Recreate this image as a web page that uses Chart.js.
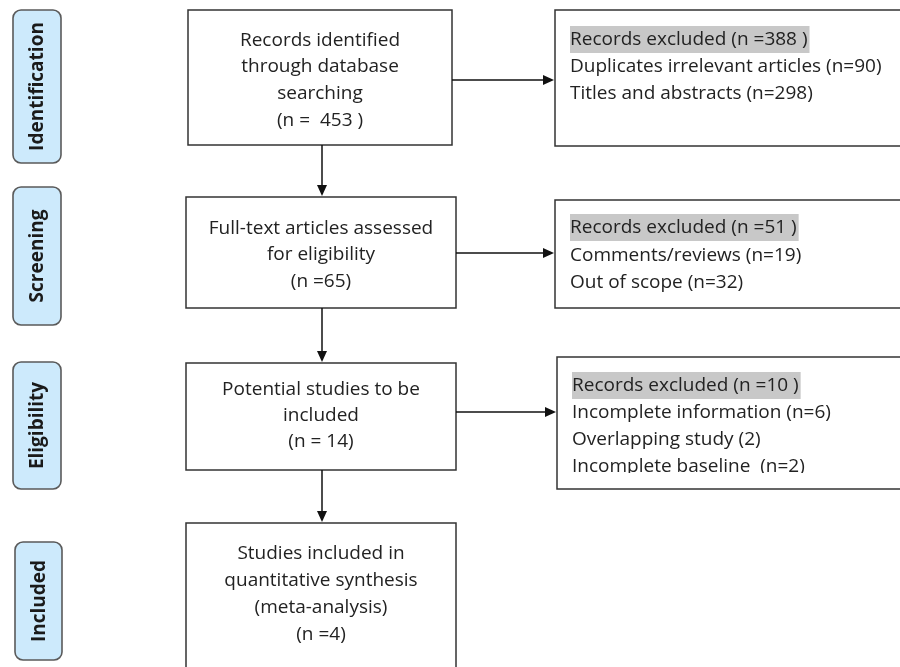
<!DOCTYPE html>
<html>
<head>
<meta charset="utf-8">
<script src="https://cdn.jsdelivr.net/npm/chart.js@4.4.1/dist/chart.umd.min.js"></script>
<style>
  html, body { margin: 0; padding: 0; background: #fff; }
  #flow { display: block; }
</style>
</head>
<body>
<canvas id="flow" width="900" height="667"></canvas>
<script>
// PRISMA flow data
const stages        = ["Identification", "Screening", "Eligibility", "Included"];
const mainCounts    = [453, 65, 14, 4];
const excludedTotal = [388, 51, 10];
const mainLines = [
  ["Records identified", "through database", "searching", `(n =  ${mainCounts[0]} )`],
  ["Full-text articles assessed", "for eligibility", `(n =${mainCounts[1]})`],
  ["Potential studies to be", "included", `(n = ${mainCounts[2]})`],
  ["Studies included in", "quantitative synthesis", "(meta-analysis)", `(n =${mainCounts[3]})`],
];
const reasonLabels = [
  ["Duplicates irrelevant articles", "Titles and abstracts"],
  ["Comments/reviews", "Out of scope"],
  ["Incomplete information", "Overlapping study", "Incomplete baseline "],
];
const reasonCounts = [[90, 298], [19, 32], [6, 2, 2]];
const reasonFormat = [["n=", "n=", "n="], ["n=", "n="], ["n=", "", "n="]];

// layout (in axis units, axis = 0..900 x 0..667)
const stageBox = [[13, 10, 61, 163], [13, 187, 61, 325], [13, 362, 61, 489], [15, 542, 62, 660]];
const mainBox  = [[188, 10, 452, 145], [186, 197, 456, 308], [186, 363, 456, 470], [186, 523, 456, 700]];
const mainTextY = [[41, 67, 94, 121], [229, 255, 282], [390, 416, 442], [554, 581, 608, 635]];
const exclBox  = [[555, 10, 905, 146], [555, 200, 905, 308], [557, 357, 905, 489]];
const exclTextY = [[40, 67, 94], [228, 256, 283], [386, 413, 440, 467]];
const exclClip = [146, 308, 473];
const arrowY   = [80, 253, 412];
const arrowX   = 322;
const BODY_FONT = "19px 'Open Sans'";

const flowPlugin = {
  id: "flow",
  afterDraw(chart) {
    const ctx = chart.ctx;
    const sx = chart.scales.x, sy = chart.scales.y;
    const px = v => sx.getPixelForValue(v);
    const py = v => sy.getPixelForValue(v);
    ctx.save();

    // stage labels
    stages.forEach((name, i) => {
      const [x0, y0, x1, y1] = stageBox[i];
      ctx.beginPath();
      ctx.roundRect(px(x0), py(y0), px(x1) - px(x0), py(y1) - py(y0), 8);
      ctx.fillStyle = "#cdeafc";
      ctx.fill();
      ctx.lineWidth = 1.6;
      ctx.strokeStyle = "#5a5a5a";
      ctx.stroke();
      ctx.save();
      ctx.translate((px(x0) + px(x1)) / 2 + 1, (py(y0) + py(y1)) / 2);
      ctx.rotate(-Math.PI / 2);
      ctx.fillStyle = "#1a1a1a";
      ctx.font = "bold 19px 'Open Sans'";
      ctx.textAlign = "center";
      ctx.textBaseline = "middle";
      ctx.fillText(name, 0, 0);
      ctx.restore();
    });

    // main boxes
    ctx.lineWidth = 1.5;
    ctx.strokeStyle = "#333";
    mainBox.forEach((b, i) => {
      const [x0, y0, x1, y1] = b;
      ctx.strokeRect(px(x0), py(y0), px(x1) - px(x0), py(y1) - py(y0));
      ctx.fillStyle = "#222";
      ctx.font = BODY_FONT;
      ctx.textAlign = "center";
      ctx.textBaseline = "middle";
      const cx = (px(x0) + px(x1)) / 2;
      mainLines[i].forEach((t, j) => ctx.fillText(t, cx, py(mainTextY[i][j])));
    });

    // excluded boxes
    exclBox.forEach((b, i) => {
      const [x0, y0, x1, y1] = b;
      ctx.strokeStyle = "#333";
      ctx.strokeRect(px(x0), py(y0), px(x1) - px(x0), py(y1) - py(y0));
      ctx.save();
      ctx.beginPath();
      ctx.rect(px(x0), py(y0), px(x1) - px(x0), py(exclClip[i]) - py(y0));
      ctx.clip();
      ctx.font = BODY_FONT;
      ctx.textAlign = "left";
      ctx.textBaseline = "middle";
      const tx = px(x0) + 15;
      const head = `Records excluded (n =${excludedTotal[i]} )`;
      const w = ctx.measureText(head).width;
      ctx.fillStyle = "#c8c8c8";
      ctx.fillRect(tx, py(exclTextY[i][0]) - 14, w + 2, 27);
      ctx.fillStyle = "#222";
      ctx.fillText(head, tx, py(exclTextY[i][0]));
      reasonLabels[i].forEach((lab, j) => {
        const t = `${lab} (${reasonFormat[i][j]}${reasonCounts[i][j]})`;
        ctx.fillText(t, tx, py(exclTextY[i][j + 1]));
      });
      ctx.restore();
    });

    // arrows
    ctx.strokeStyle = "#111";
    ctx.fillStyle = "#111";
    ctx.lineWidth = 1.5;
    const head = (x, y, dir) => {
      ctx.beginPath();
      if (dir === "right") {
        ctx.moveTo(x, y); ctx.lineTo(x - 11, y - 5); ctx.lineTo(x - 11, y + 5);
      } else {
        ctx.moveTo(x, y); ctx.lineTo(x - 5, y - 11); ctx.lineTo(x + 5, y - 11);
      }
      ctx.closePath();
      ctx.fill();
    };
    arrowY.forEach((y, i) => {
      const xa = px(mainBox[i][2]), xb = px(exclBox[i][0]);
      ctx.beginPath();
      ctx.moveTo(xa, py(y)); ctx.lineTo(xb - 8, py(y));
      ctx.stroke();
      head(xb - 1, py(y), "right");
    });
    for (let i = 0; i < mainBox.length - 1; i++) {
      const ya = py(mainBox[i][3]), yb = py(mainBox[i + 1][1]);
      ctx.beginPath();
      ctx.moveTo(px(arrowX), ya); ctx.lineTo(px(arrowX), yb - 8);
      ctx.stroke();
      head(px(arrowX), yb - 1, "down");
    }
    ctx.restore();
  }
};

new Chart(document.getElementById("flow"), {
  type: "scatter",
  data: { datasets: [{ data: [], pointRadius: 0 }] },
  options: {
    responsive: false,
    animation: false,
    layout: { padding: 0 },
    plugins: { legend: { display: false }, tooltip: { enabled: false } },
    scales: {
      x: { type: "linear", min: 0, max: 900, display: false },
      y: { type: "linear", min: 0, max: 667, reverse: true, display: false },
    },
  },
  plugins: [flowPlugin],
});
</script>
</body>
</html>
